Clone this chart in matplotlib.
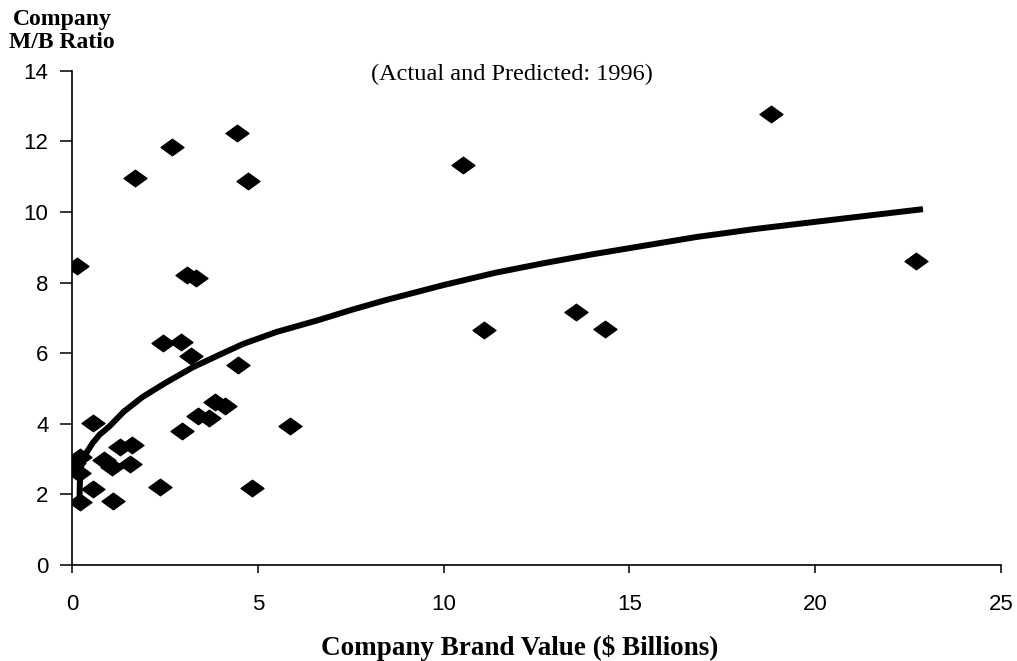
import matplotlib.pyplot as plt
from matplotlib.path import Path

# Actual values (brand value, M/B ratio)
brand_value = [0.13, 1.69, 2.69, 4.44, 4.73, 3.09, 3.33, 2.45, 2.93, 3.20,
               4.46, 3.84, 4.11, 3.39, 3.68, 2.96, 5.86, 0.56, 1.29, 1.61,
               0.85, 1.08, 1.56, 0.05, 0.22, 0.20, 0.56, 0.22, 1.10, 2.37,
               4.84, 10.51, 11.10, 13.55, 14.33, 18.8, 22.7]
mb_ratio = [8.47, 10.96, 11.84, 12.24, 10.88, 8.22, 8.13, 6.29, 6.32, 5.92,
            5.67, 4.62, 4.50, 4.22, 4.16, 3.80, 3.94, 4.02, 3.34, 3.40,
            2.97, 2.78, 2.86, 2.89, 3.05, 2.60, 2.16, 1.78, 1.81, 2.21,
            2.18, 11.33, 6.66, 7.17, 6.69, 12.78, 8.60]

# Predicted curve
pred_x = [0.2, 0.21, 0.24, 0.3, 0.4, 0.56, 0.75, 1.0, 1.4, 1.9, 2.5, 3.25,
          4.0, 4.6, 5.5, 6.64, 7.5, 8.43, 10.0, 11.4, 12.7, 14.0, 16.8,
          18.4, 20.0, 22.9]
pred_y = [1.75, 2.3, 2.75, 2.98, 3.2, 3.46, 3.7, 3.92, 4.35, 4.76, 5.15, 5.6,
          5.97, 6.26, 6.6, 6.94, 7.22, 7.5, 7.93, 8.28, 8.55, 8.8, 9.29,
          9.52, 9.72, 10.08]

xticks = [0, 5, 10, 15, 20, 25]
yticks = [0, 2, 4, 6, 8, 10, 12, 14]

# flattened diamond marker
diamond = Path([(-1, 0), (0, 0.72), (1, 0), (0, -0.72), (-1, 0)],
               [Path.MOVETO, Path.LINETO, Path.LINETO, Path.LINETO, Path.CLOSEPOLY])

fig = plt.figure(figsize=(10.17, 6.61), dpi=100)
ax = fig.add_axes([0.0708, 0.1452, 0.9135, 0.7478])

ax.plot(pred_x, pred_y, color="black", linewidth=4.3, solid_capstyle="butt",
        solid_joinstyle="round", zorder=2)
ax.plot(brand_value, mb_ratio, linestyle="none", marker=diamond, markersize=16.5,
        color="black", zorder=3)

ax.set_xlim(0, 25)
ax.set_ylim(0, 14)
ax.set_xticks(xticks)
ax.set_yticks(yticks)
for side in ["top", "right"]:
    ax.spines[side].set_visible(False)
for side in ["left", "bottom"]:
    ax.spines[side].set_linewidth(1.2)

ax.tick_params(axis="y", direction="out", length=9, width=1.1, pad=8)
ax.tick_params(axis="x", direction="out", length=6, width=1.1, pad=15)
for lab in ax.get_xticklabels() + ax.get_yticklabels():
    lab.set_fontfamily("Liberation Sans")
    lab.set_fontsize(16)

fig.text(0.061, 0.986, "Company\nM/B Ratio", ha="center", va="top",
         fontfamily="Liberation Serif", fontweight="bold", fontsize=17, linespacing=1.12)
fig.text(0.503, 0.888, "(Actual and Predicted: 1996)", ha="center", va="center",
         fontfamily="Liberation Serif", fontsize=17.5)
fig.text(0.511, 0.02, "Company Brand Value ($ Billions)", ha="center", va="center",
         fontfamily="Liberation Serif", fontweight="bold", fontsize=19.5)

fig.savefig("out.png", dpi=100)
